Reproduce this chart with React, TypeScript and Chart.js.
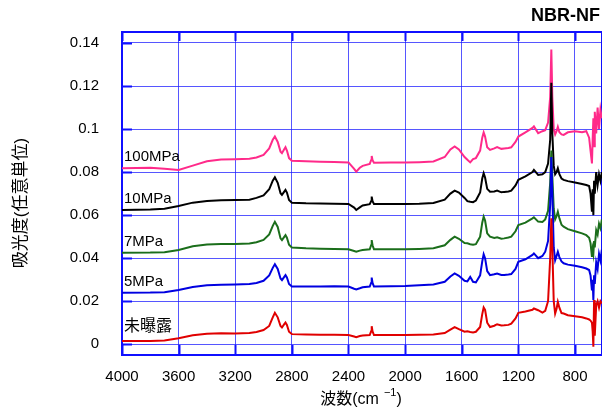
import React, { useEffect, useRef } from "react";
import { Chart, registerables } from "chart.js";

Chart.register(...registerables);

const WAVENUMBERS = [
  4000, 3800, 3700, 3600, 3500, 3400, 3300, 3200, 3100, 3050, 3000, 2960, 2935, 2920, 2900, 2880, 2870, 2855, 2845, 2835,
  2820, 2800, 2700, 2600, 2500, 2400, 2360, 2345, 2320, 2300, 2250, 2240, 2236, 2230, 2220, 2100, 2000, 1900, 1800, 1720,
  1680, 1650, 1620, 1580, 1560, 1540, 1520, 1500, 1470, 1455, 1445, 1435, 1420, 1400, 1370, 1350, 1320, 1300, 1270, 1250,
  1220, 1200, 1150, 1100, 1090, 1060, 1030, 1010, 990, 975, 967, 960, 950, 940, 930, 921, 910, 895, 880, 850,
  800, 750, 720, 700, 690, 680, 675, 670, 665, 660, 650, 640, 630, 620, 610,
];

const UNEXPOSED = [
  0.0015, 0.0015, 0.0017, 0.0028, 0.0042, 0.0049, 0.0051, 0.005, 0.0052, 0.0057, 0.0066, 0.0085, 0.0125, 0.0146, 0.0125, 0.0085, 0.0078, 0.0092, 0.0101, 0.009,
  0.0058, 0.0047, 0.0045, 0.0044, 0.0044, 0.0043, 0.0036, 0.0033, 0.0038, 0.0041, 0.0043, 0.006, 0.0084, 0.006, 0.0043, 0.0043, 0.0043, 0.0044, 0.0045, 0.0052,
  0.0068, 0.008, 0.007, 0.0058, 0.006, 0.0057, 0.0055, 0.0058, 0.008, 0.014, 0.0171, 0.016, 0.01, 0.008, 0.0086, 0.0093, 0.0087, 0.0088, 0.009, 0.0096,
  0.012, 0.0146, 0.0152, 0.016, 0.0166, 0.0158, 0.0147, 0.0155, 0.02, 0.04, 0.0585, 0.045, 0.02, 0.0143, 0.0165, 0.0197, 0.017, 0.0145, 0.0143, 0.0135,
  0.013, 0.0125, 0.012, 0.0115, 0.011, 0.01, 0.006, -0.0012, 0.0205, 0.004, 0.018, 0.02, 0.017, 0.02, 0.019,
];

const MPA5 = [
  0.0239, 0.024, 0.0242, 0.0252, 0.0266, 0.0274, 0.0277, 0.0278, 0.028, 0.0285, 0.0295, 0.032, 0.0355, 0.0372, 0.035, 0.0305, 0.0298, 0.0312, 0.0321, 0.031,
  0.028, 0.0268, 0.0268, 0.0268, 0.0269, 0.0268, 0.0258, 0.0255, 0.026, 0.0265, 0.0268, 0.0285, 0.031, 0.0285, 0.0268, 0.027, 0.0271, 0.0274, 0.0278, 0.029,
  0.0315, 0.0329, 0.0318, 0.0295, 0.0292, 0.0313, 0.029, 0.0287, 0.032, 0.0385, 0.0418, 0.04, 0.034, 0.0321, 0.0325, 0.0329, 0.0322, 0.0322, 0.0324, 0.0326,
  0.035, 0.0383, 0.0395, 0.0415, 0.0422, 0.04, 0.041, 0.043, 0.048, 0.065, 0.087, 0.07, 0.045, 0.039, 0.041, 0.043, 0.0405, 0.0385, 0.0376, 0.037,
  0.0365, 0.0358, 0.0352, 0.0345, 0.032, 0.025, 0.03, 0.0205, 0.032, 0.028, 0.038, 0.035, 0.042, 0.039, 0.044,
];

const MPA7 = [
  0.0425, 0.0426, 0.0428, 0.0438, 0.0455, 0.0463, 0.0466, 0.0466, 0.0468, 0.0474, 0.0485, 0.051, 0.055, 0.0569, 0.0545, 0.0492, 0.0484, 0.0498, 0.0507, 0.0495,
  0.0462, 0.045, 0.0446, 0.0444, 0.0443, 0.0441, 0.0433, 0.043, 0.0435, 0.0438, 0.0441, 0.046, 0.0484, 0.046, 0.0441, 0.0441, 0.0441, 0.0443, 0.0446, 0.046,
  0.0485, 0.05, 0.049, 0.047, 0.0469, 0.0465, 0.0462, 0.0465, 0.05, 0.0565, 0.0593, 0.0575, 0.0515, 0.05, 0.0494, 0.0497, 0.049, 0.0492, 0.0496, 0.05,
  0.0525, 0.0554, 0.0565, 0.0585, 0.059, 0.057, 0.0568, 0.058, 0.062, 0.075, 0.09, 0.078, 0.063, 0.058, 0.0595, 0.0616, 0.0585, 0.0555, 0.0546, 0.0535,
  0.0525, 0.0515, 0.0507, 0.0495, 0.047, 0.0406, 0.044, 0.042, 0.048, 0.045, 0.053, 0.051, 0.056, 0.054, 0.058,
];

const MPA10 = [
  0.0624, 0.0626, 0.063, 0.0642, 0.0658, 0.0666, 0.0669, 0.067, 0.0672, 0.068, 0.0692, 0.072, 0.076, 0.0776, 0.075, 0.0702, 0.0694, 0.0708, 0.0717, 0.0705,
  0.067, 0.0658, 0.0655, 0.0654, 0.0653, 0.0652, 0.0635, 0.0624, 0.0636, 0.0645, 0.0651, 0.0665, 0.0686, 0.0665, 0.0652, 0.0652, 0.0652, 0.0653, 0.0656, 0.0672,
  0.07, 0.0714, 0.0705, 0.068, 0.0665, 0.0662, 0.066, 0.0668, 0.0705, 0.077, 0.0795, 0.0775, 0.0722, 0.0709, 0.071, 0.0714, 0.0706, 0.0708, 0.071, 0.0714,
  0.0738, 0.0764, 0.078, 0.08, 0.081, 0.0787, 0.079, 0.08, 0.084, 0.095, 0.1215, 0.098, 0.083, 0.079, 0.08, 0.0818, 0.079, 0.077, 0.0764, 0.0758,
  0.0752, 0.0745, 0.074, 0.0735, 0.07, 0.0616, 0.072, 0.06, 0.076, 0.07, 0.08, 0.074, 0.079, 0.076, 0.08,
];

const MPA100 = [
  0.0818, 0.082, 0.0815, 0.081, 0.083, 0.085, 0.0858, 0.086, 0.0862, 0.0868, 0.088, 0.091, 0.095, 0.0965, 0.094, 0.0895, 0.0888, 0.0905, 0.0916, 0.09,
  0.0865, 0.0853, 0.085, 0.0848, 0.0847, 0.0845, 0.0815, 0.0802, 0.082, 0.0829, 0.0838, 0.0855, 0.0875, 0.0855, 0.0843, 0.0844, 0.0844, 0.0846, 0.0849, 0.087,
  0.0905, 0.0919, 0.0905, 0.087, 0.0857, 0.0845, 0.086, 0.0865, 0.09, 0.096, 0.0984, 0.0965, 0.0915, 0.0903, 0.091, 0.0916, 0.0908, 0.091, 0.0912, 0.0915,
  0.094, 0.0965, 0.0985, 0.1005, 0.1012, 0.0981, 0.099, 0.0995, 0.103, 0.115, 0.137, 0.115, 0.1, 0.0975, 0.099, 0.101, 0.0985, 0.0975, 0.0973, 0.0985,
  0.099, 0.0985, 0.099, 0.096, 0.09, 0.084, 0.095, 0.105, 0.092, 0.108, 0.098, 0.11, 0.1, 0.109, 0.105,
];

const SERIES_NAMES = ["未曝露", "5MPa", "7MPa", "10MPa", "100MPa"];
const SERIES_VALUES = [UNEXPOSED, MPA5, MPA7, MPA10, MPA100];
const SERIES_COLORS = ["#e00000", "#0000e0", "#1b6e1b", "#000000", "#ff2a8a"];

const X_TICKS = [4000, 3600, 3200, 2800, 2400, 2000, 1600, 1200, 800];
const Y_TICKS = [0, 0.02, 0.04, 0.06, 0.08, 0.1, 0.12, 0.14];
const Y_TICK_LABELS = ["0", "0.02", "0.04", "0.06", "0.08", "0.1", "0.12", "0.14"];

const TITLE = "NBR-NF";
const X_TITLE_MAIN = "波数(cm";
const X_TITLE_SUP = "\u22121";
const X_TITLE_END = ")";
const Y_TITLE = "吸光度(任意単位)";

const FONT = "'Liberation Sans', Arial, 'Noto Sans CJK JP', sans-serif";
const GRID_COLOR = "rgba(30,30,255,0.75)";
const FRAME_COLOR = "#1010ff";

const decorPlugin = {
  id: "decor",
  beforeDatasetsDraw(chart: any) {
    const { ctx, chartArea, scales } = chart;
    const { left, right, top, bottom } = chartArea;
    ctx.save();
    ctx.strokeStyle = FRAME_COLOR;
    ctx.lineWidth = 2;
    ctx.beginPath();
    X_TICKS.forEach((v) => {
      const px = Math.round(scales.x.getPixelForValue(v)) + 0.5;
      ctx.moveTo(px, bottom);
      ctx.lineTo(px, bottom - 10);
      ctx.moveTo(px, top);
      ctx.lineTo(px, top + 9);
    });
    Y_TICKS.forEach((v) => {
      const py = Math.round(scales.y.getPixelForValue(v)) + 0.5;
      ctx.moveTo(left, py);
      ctx.lineTo(left + 10, py);
    });
    ctx.stroke();
    ctx.strokeRect(left, top, right - left, bottom - top);
    ctx.restore();
  },
  afterDraw(chart: any) {
    const { ctx, chartArea } = chart;
    const { left, right } = chartArea;
    ctx.save();
    ctx.fillStyle = "#000";
    ctx.font = `bold 18px ${FONT}`;
    ctx.textAlign = "right";
    ctx.textBaseline = "middle";
    ctx.fillText(TITLE, 600, 16);
    const labelY = [327, 282, 242, 199, 157];
    ctx.textAlign = "left";
    SERIES_NAMES.forEach((n, i) => {
      ctx.font = i === 0 ? `16px ${FONT}` : `15px ${FONT}`;
      ctx.fillText(n, left + 2, labelY[i]);
    });
    ctx.font = `16px ${FONT}`;
    const wMain = ctx.measureText(X_TITLE_MAIN).width;
    ctx.font = `11px ${FONT}`;
    const wSup = ctx.measureText(X_TITLE_SUP).width;
    ctx.font = `16px ${FONT}`;
    const wEnd = ctx.measureText(X_TITLE_END).width;
    const gap = 5;
    const total = wMain + gap + wSup + wEnd;
    let x0 = (left + right) / 2 - total / 2 - 1;
    ctx.fillText(X_TITLE_MAIN, x0, 400);
    x0 += wMain + gap;
    ctx.font = `11px ${FONT}`;
    ctx.fillText(X_TITLE_SUP, x0, 393);
    x0 += wSup;
    ctx.font = `16px ${FONT}`;
    ctx.fillText(X_TITLE_END, x0, 400);
    ctx.translate(21, 203);
    ctx.rotate(-Math.PI / 2);
    ctx.textAlign = "center";
    ctx.font = `17px ${FONT}`;
    ctx.fillText(Y_TITLE, 0, 0);
    ctx.restore();
  },
};

export default function App() {
  const canvasRef = useRef<HTMLCanvasElement | null>(null);

  useEffect(() => {
    const canvas = canvasRef.current;
    if (!canvas) return;
    const datasets = SERIES_NAMES.map((name, i) => ({
      label: name,
      data: WAVENUMBERS.map((w, j) => ({ x: w, y: SERIES_VALUES[i][j] })),
      borderColor: SERIES_COLORS[i],
      backgroundColor: SERIES_COLORS[i],
      borderWidth: 2,
      pointRadius: 0,
      tension: 0,
      fill: false,
    }));
    const chart = new Chart(canvas, {
      type: "line",
      data: { datasets },
      plugins: [decorPlugin],
      options: {
        responsive: false,
        animation: false,
        devicePixelRatio: 1,
        layout: { padding: { top: 32, right: 0, bottom: 0, left: 0 } },
        plugins: { legend: { display: false }, tooltip: { enabled: false }, title: { display: false } },
        scales: {
          x: {
            type: "linear",
            reverse: true,
            min: 609,
            max: 4000,
            afterFit: (s: any) => {
              s.height = 55;
            },
            afterBuildTicks: (s: any) => {
              s.ticks = X_TICKS.map((v) => ({ value: v }));
            },
            ticks: {
              autoSkip: false,
              maxRotation: 0,
              padding: 13,
              color: "#000",
              font: { family: FONT, size: 15 },
              callback: (v: any) => String(v),
            },
            grid: { color: GRID_COLOR, lineWidth: 1, drawTicks: false },
            border: { display: false },
          },
          y: {
            type: "linear",
            min: -0.005,
            max: 0.1451,
            afterFit: (s: any) => {
              s.width = 122;
            },
            afterBuildTicks: (s: any) => {
              s.ticks = Y_TICKS.map((v) => ({ value: v }));
            },
            ticks: {
              padding: 23,
              color: "#000",
              font: { family: FONT, size: 15 },
              callback: (v: any) => {
                const idx = Y_TICKS.findIndex((t) => Math.abs(t - v) < 1e-9);
                return idx >= 0 ? Y_TICK_LABELS[idx] : "";
              },
            },
            grid: { color: GRID_COLOR, lineWidth: 1, drawTicks: false },
            border: { display: false },
          },
        },
      },
    });
    return () => chart.destroy();
  }, []);

  return (
    <div style={{ position: "absolute", left: 0, top: 0, width: 602, height: 410, background: "#fff" }}>
      <canvas ref={canvasRef} width={602} height={410} style={{ display: "block" }} />
    </div>
  );
}
